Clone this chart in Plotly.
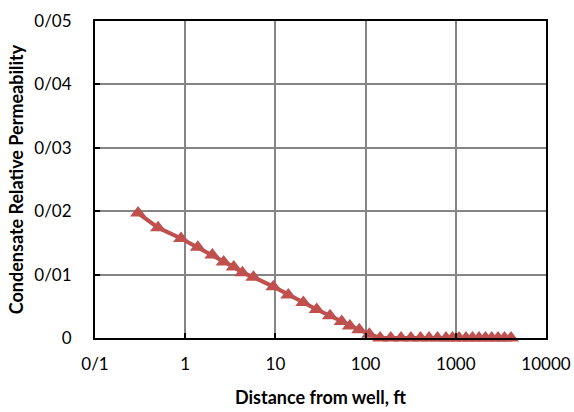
import plotly.graph_objects as go

distance_ft = [0.3, 0.5, 0.9, 1.38, 2.0, 2.67, 3.45, 4.3, 5.7, 9.5, 13.9, 20.4, 28.7, 40.3, 54.3, 67, 85, 110,
               145, 190, 247, 318, 406, 505, 627, 778, 919, 1085, 1297, 1531, 1807, 2134, 2500, 2938, 3467, 4093]
kro = [0.0197, 0.0174, 0.0157, 0.0143, 0.0131, 0.0120, 0.0112, 0.0103, 0.0096, 0.0081, 0.0068, 0.0056,
       0.0045, 0.0035, 0.0026, 0.0019, 0.0013, 0.0006,
       0, 0, 0, 0, 0, 0, 0, 0, 0, 0, 0, 0, 0, 0, 0, 0, 0, 0]

x_tickvals = [0.1, 1, 10, 100, 1000, 10000]
x_ticktext = ["0/1", "1", "10", "100", "1000", "10000"]
y_tickvals = [0, 0.01, 0.02, 0.03, 0.04, 0.05]
y_ticktext = ["0", "0/01", "0/02", "0/03", "0/04", "0/05"]

fig = go.Figure(go.Scatter(
    x=distance_ft, y=kro, mode="lines+markers",
    line=dict(color="#C0504D", width=4),
    marker=dict(symbol="triangle-up", size=14, color="#C0504D"),
    cliponaxis=False,
))

font = "Lato, Open Sans, sans-serif"
fig.update_layout(
    width=574, height=412,
    margin=dict(l=95, r=28, t=21, b=74, autoexpand=False),
    paper_bgcolor="white", plot_bgcolor="white",
    showlegend=False,
    font=dict(family=font, size=17, color="black"),
)
fig.update_xaxes(
    type="log", range=[-1, 4], automargin=False,
    tickvals=x_tickvals, ticktext=x_ticktext,
    showgrid=True, gridcolor="#858585", gridwidth=1.5,
    showline=True, linecolor="black", linewidth=2, mirror=True,
    ticks="inside", ticklen=5, tickcolor="black", tickwidth=2,
    ticklabelstandoff=10, zeroline=False,
    title=dict(text="<b>Distance from well, ft</b>", font=dict(size=18), standoff=18),
)
fig.update_yaxes(
    range=[0, 0.05], automargin=False,
    tickvals=y_tickvals, ticktext=y_ticktext,
    showgrid=True, gridcolor="#858585", gridwidth=1.5,
    showline=True, linecolor="black", linewidth=2, mirror=True,
    ticks="inside", ticklen=5, tickcolor="black", tickwidth=2,
    ticklabelstandoff=18, zeroline=False,
    title=dict(text="<b>Condensate Relative Permeability</b>", font=dict(size=18), standoff=6),
)
fig.write_html("out.html")
